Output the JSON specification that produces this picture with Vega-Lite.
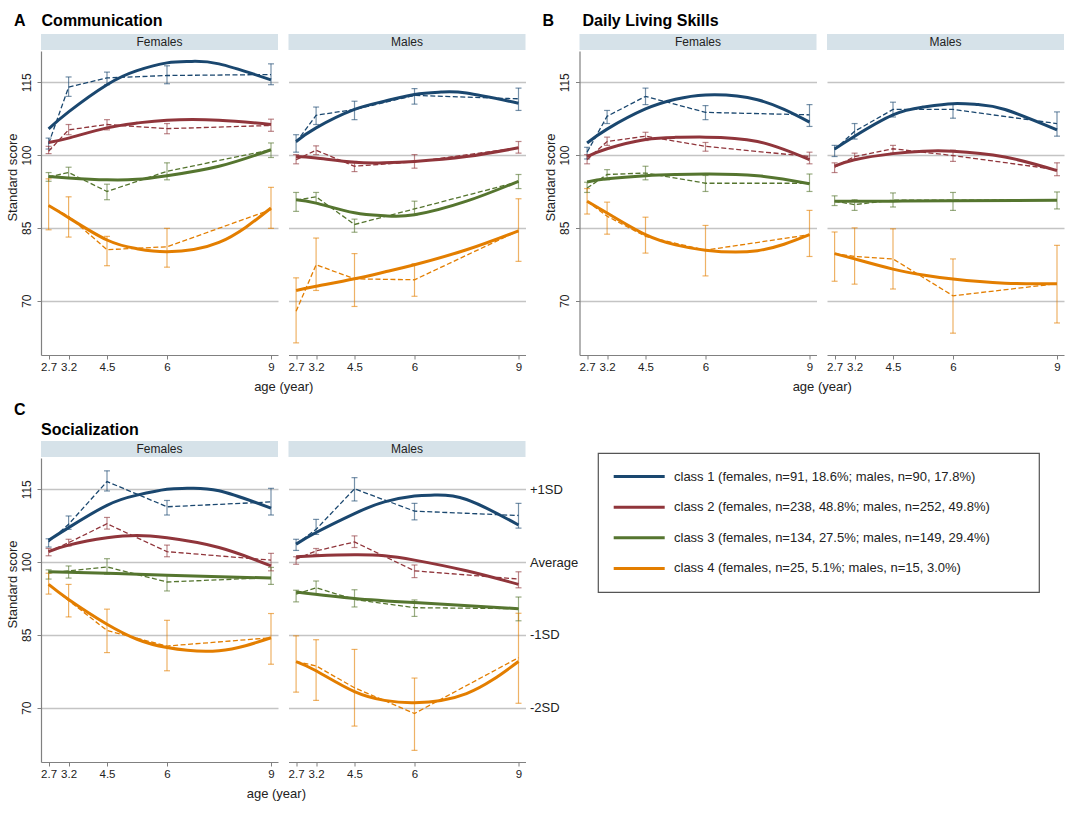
{
"$schema":"https://vega.github.io/schema/vega-lite/v6.json",
"background":"white",
"padding":{"left":5,"top":13,"right":5,"bottom":5},
"datasets":{
"obs":[
{"panel":"A","sex":"Females","cls":"class 1","age":2.7,"mean":102.35,"lo":101.25,"hi":103.5},
{"panel":"A","sex":"Females","cls":"class 1","age":3.2,"mean":114.0,"lo":112.1,"hi":116.1},
{"panel":"A","sex":"Females","cls":"class 1","age":4.5,"mean":115.9,"lo":114.5,"hi":117.1},
{"panel":"A","sex":"Females","cls":"class 1","age":6,"mean":116.4,"lo":114.7,"hi":118.4},
{"panel":"A","sex":"Females","cls":"class 1","age":9,"mean":116.6,"lo":114.5,"hi":118.8},
{"panel":"A","sex":"Females","cls":"class 2","age":2.7,"mean":100.8,"lo":100.3,"hi":101.8},
{"panel":"A","sex":"Females","cls":"class 2","age":3.2,"mean":105.2,"lo":104.2,"hi":106.3},
{"panel":"A","sex":"Females","cls":"class 2","age":4.5,"mean":106.3,"lo":105.2,"hi":107.3},
{"panel":"A","sex":"Females","cls":"class 2","age":6,"mean":105.45,"lo":104.4,"hi":106.5},
{"panel":"A","sex":"Females","cls":"class 2","age":9,"mean":106.1,"lo":104.9,"hi":107.4},
{"panel":"A","sex":"Females","cls":"class 3","age":2.7,"mean":95.5,"lo":94.6,"hi":96.4},
{"panel":"A","sex":"Females","cls":"class 3","age":3.2,"mean":96.4,"lo":95.3,"hi":97.5},
{"panel":"A","sex":"Females","cls":"class 3","age":4.5,"mean":92.5,"lo":90.8,"hi":94.0},
{"panel":"A","sex":"Females","cls":"class 3","age":6,"mean":96.65,"lo":94.9,"hi":98.4},
{"panel":"A","sex":"Females","cls":"class 3","age":9,"mean":101.1,"lo":99.5,"hi":102.5},
{"panel":"A","sex":"Females","cls":"class 4","age":2.7,"mean":89.6,"lo":84.6,"hi":95.1},
{"panel":"A","sex":"Females","cls":"class 4","age":3.2,"mean":87.4,"lo":83.1,"hi":91.4},
{"panel":"A","sex":"Females","cls":"class 4","age":4.5,"mean":80.5,"lo":77.2,"hi":83.25},
{"panel":"A","sex":"Females","cls":"class 4","age":6,"mean":81.1,"lo":76.9,"hi":84.9},
{"panel":"A","sex":"Females","cls":"class 4","age":9,"mean":88.75,"lo":84.9,"hi":93.35},
{"panel":"A","sex":"Males","cls":"class 1","age":2.7,"mean":102.6,"lo":100.6,"hi":104.2},
{"panel":"A","sex":"Males","cls":"class 1","age":3.2,"mean":108.2,"lo":106.3,"hi":109.9},
{"panel":"A","sex":"Males","cls":"class 1","age":4.5,"mean":109.4,"lo":107.3,"hi":111.1},
{"panel":"A","sex":"Males","cls":"class 1","age":6,"mean":112.3,"lo":110.5,"hi":113.7},
{"panel":"A","sex":"Males","cls":"class 1","age":9,"mean":111.6,"lo":109.2,"hi":113.8},
{"panel":"A","sex":"Males","cls":"class 2","age":2.7,"mean":99.05,"lo":98.2,"hi":100.1},
{"panel":"A","sex":"Males","cls":"class 2","age":3.2,"mean":101.0,"lo":100.1,"hi":101.9},
{"panel":"A","sex":"Males","cls":"class 2","age":4.5,"mean":97.7,"lo":96.6,"hi":98.7},
{"panel":"A","sex":"Males","cls":"class 2","age":6,"mean":98.6,"lo":97.3,"hi":100.1},
{"panel":"A","sex":"Males","cls":"class 2","age":9,"mean":101.5,"lo":100.4,"hi":102.8},
{"panel":"A","sex":"Males","cls":"class 3","age":2.7,"mean":90.7,"lo":88.4,"hi":92.3},
{"panel":"A","sex":"Males","cls":"class 3","age":3.2,"mean":91.4,"lo":90.1,"hi":92.3},
{"panel":"A","sex":"Males","cls":"class 3","age":4.5,"mean":85.7,"lo":84.1,"hi":86.8},
{"panel":"A","sex":"Males","cls":"class 3","age":6,"mean":88.9,"lo":87.6,"hi":90.5},
{"panel":"A","sex":"Males","cls":"class 3","age":9,"mean":94.5,"lo":93.1,"hi":96.0},
{"panel":"A","sex":"Males","cls":"class 4","age":2.7,"mean":67.8,"lo":61.3,"hi":74.7},
{"panel":"A","sex":"Males","cls":"class 4","age":3.2,"mean":77.4,"lo":72.1,"hi":82.9},
{"panel":"A","sex":"Males","cls":"class 4","age":4.5,"mean":74.5,"lo":68.8,"hi":79.7},
{"panel":"A","sex":"Males","cls":"class 4","age":6,"mean":74.3,"lo":70.9,"hi":77.6},
{"panel":"A","sex":"Males","cls":"class 4","age":9,"mean":84.4,"lo":78.1,"hi":91.0},
{"panel":"B","sex":"Females","cls":"class 1","age":2.7,"mean":100.6,"lo":99.2,"hi":101.6},
{"panel":"B","sex":"Females","cls":"class 1","age":3.2,"mean":108.0,"lo":106.5,"hi":109.2},
{"panel":"B","sex":"Females","cls":"class 1","age":4.5,"mean":112.1,"lo":110.4,"hi":113.8},
{"panel":"B","sex":"Females","cls":"class 1","age":6,"mean":108.8,"lo":107.3,"hi":110.2},
{"panel":"B","sex":"Females","cls":"class 1","age":9,"mean":108.3,"lo":105.9,"hi":110.4},
{"panel":"B","sex":"Females","cls":"class 2","age":2.7,"mean":99.05,"lo":98.2,"hi":100.1},
{"panel":"B","sex":"Females","cls":"class 2","age":3.2,"mean":102.8,"lo":102.0,"hi":103.7},
{"panel":"B","sex":"Females","cls":"class 2","age":4.5,"mean":103.9,"lo":103.0,"hi":104.7},
{"panel":"B","sex":"Females","cls":"class 2","age":6,"mean":101.8,"lo":100.8,"hi":102.6},
{"panel":"B","sex":"Females","cls":"class 2","age":9,"mean":99.7,"lo":98.2,"hi":100.6},
{"panel":"B","sex":"Females","cls":"class 3","age":2.7,"mean":93.2,"lo":92.3,"hi":94.4},
{"panel":"B","sex":"Females","cls":"class 3","age":3.2,"mean":96.0,"lo":94.9,"hi":97.0},
{"panel":"B","sex":"Females","cls":"class 3","age":4.5,"mean":96.3,"lo":94.9,"hi":97.7},
{"panel":"B","sex":"Females","cls":"class 3","age":6,"mean":94.2,"lo":92.5,"hi":95.8},
{"panel":"B","sex":"Females","cls":"class 3","age":9,"mean":94.2,"lo":92.5,"hi":96.1},
{"panel":"B","sex":"Females","cls":"class 4","age":2.7,"mean":90.5,"lo":87.85,"hi":93.1},
{"panel":"B","sex":"Females","cls":"class 4","age":3.2,"mean":87.4,"lo":83.7,"hi":90.3},
{"panel":"B","sex":"Females","cls":"class 4","age":4.5,"mean":83.25,"lo":79.8,"hi":87.2},
{"panel":"B","sex":"Females","cls":"class 4","age":6,"mean":80.4,"lo":75.1,"hi":85.5},
{"panel":"B","sex":"Females","cls":"class 4","age":9,"mean":83.6,"lo":79.1,"hi":88.6},
{"panel":"B","sex":"Males","cls":"class 1","age":2.7,"mean":101.1,"lo":99.7,"hi":102.0},
{"panel":"B","sex":"Males","cls":"class 1","age":3.2,"mean":104.9,"lo":103.3,"hi":106.5},
{"panel":"B","sex":"Males","cls":"class 1","age":4.5,"mean":109.4,"lo":107.85,"hi":110.9},
{"panel":"B","sex":"Males","cls":"class 1","age":6,"mean":109.4,"lo":107.6,"hi":110.5},
{"panel":"B","sex":"Males","cls":"class 1","age":9,"mean":106.5,"lo":103.9,"hi":108.9},
{"panel":"B","sex":"Males","cls":"class 2","age":2.7,"mean":97.5,"lo":96.4,"hi":98.4},
{"panel":"B","sex":"Males","cls":"class 2","age":3.2,"mean":99.7,"lo":99.05,"hi":100.4},
{"panel":"B","sex":"Males","cls":"class 2","age":4.5,"mean":101.3,"lo":100.4,"hi":102.0},
{"panel":"B","sex":"Males","cls":"class 2","age":6,"mean":99.9,"lo":98.7,"hi":101.0},
{"panel":"B","sex":"Males","cls":"class 2","age":9,"mean":97.0,"lo":95.75,"hi":98.4},
{"panel":"B","sex":"Males","cls":"class 3","age":2.7,"mean":90.5,"lo":89.6,"hi":91.6},
{"panel":"B","sex":"Males","cls":"class 3","age":3.2,"mean":89.8,"lo":88.6,"hi":90.8},
{"panel":"B","sex":"Males","cls":"class 3","age":4.5,"mean":90.7,"lo":89.3,"hi":92.2},
{"panel":"B","sex":"Males","cls":"class 3","age":6,"mean":90.7,"lo":88.6,"hi":92.3},
{"panel":"B","sex":"Males","cls":"class 3","age":9,"mean":90.8,"lo":88.9,"hi":92.4},
{"panel":"B","sex":"Males","cls":"class 4","age":2.7,"mean":79.7,"lo":74.0,"hi":84.15},
{"panel":"B","sex":"Males","cls":"class 4","age":3.2,"mean":79.1,"lo":73.4,"hi":85.0},
{"panel":"B","sex":"Males","cls":"class 4","age":4.5,"mean":78.6,"lo":72.4,"hi":84.8},
{"panel":"B","sex":"Males","cls":"class 4","age":6,"mean":71.0,"lo":63.3,"hi":78.6},
{"panel":"B","sex":"Males","cls":"class 4","age":9,"mean":73.5,"lo":65.4,"hi":81.4},
{"panel":"C","sex":"Females","cls":"class 1","age":2.7,"mean":104.15,"lo":103.1,"hi":104.8},
{"panel":"C","sex":"Females","cls":"class 1","age":3.2,"mean":107.8,"lo":106.75,"hi":109.5},
{"panel":"C","sex":"Females","cls":"class 1","age":4.5,"mean":116.6,"lo":114.65,"hi":118.8},
{"panel":"C","sex":"Females","cls":"class 1","age":6,"mean":111.4,"lo":109.7,"hi":112.7},
{"panel":"C","sex":"Females","cls":"class 1","age":9,"mean":112.4,"lo":109.7,"hi":115.2},
{"panel":"C","sex":"Females","cls":"class 2","age":2.7,"mean":102.15,"lo":101.3,"hi":102.8},
{"panel":"C","sex":"Females","cls":"class 2","age":3.2,"mean":104.0,"lo":103.3,"hi":104.7},
{"panel":"C","sex":"Females","cls":"class 2","age":4.5,"mean":107.9,"lo":106.8,"hi":109.2},
{"panel":"C","sex":"Females","cls":"class 2","age":6,"mean":102.15,"lo":101.1,"hi":103.5},
{"panel":"C","sex":"Females","cls":"class 2","age":9,"mean":100.4,"lo":98.2,"hi":101.8},
{"panel":"C","sex":"Females","cls":"class 3","age":2.7,"mean":97.8,"lo":96.5,"hi":98.4},
{"panel":"C","sex":"Females","cls":"class 3","age":3.2,"mean":98.2,"lo":96.7,"hi":99.2},
{"panel":"C","sex":"Females","cls":"class 3","age":4.5,"mean":99.0,"lo":97.5,"hi":100.7},
{"panel":"C","sex":"Females","cls":"class 3","age":6,"mean":95.9,"lo":94.05,"hi":97.3},
{"panel":"C","sex":"Females","cls":"class 3","age":9,"mean":96.8,"lo":95.4,"hi":98.9},
{"panel":"C","sex":"Females","cls":"class 4","age":2.7,"mean":95.4,"lo":93.4,"hi":97.7},
{"panel":"C","sex":"Females","cls":"class 4","age":3.2,"mean":92.1,"lo":88.7,"hi":95.4},
{"panel":"C","sex":"Females","cls":"class 4","age":4.5,"mean":85.9,"lo":81.35,"hi":90.3},
{"panel":"C","sex":"Females","cls":"class 4","age":6,"mean":82.7,"lo":77.6,"hi":88.0},
{"panel":"C","sex":"Females","cls":"class 4","age":9,"mean":84.4,"lo":78.95,"hi":89.4},
{"panel":"C","sex":"Males","cls":"class 1","age":2.7,"mean":103.7,"lo":102.4,"hi":104.7},
{"panel":"C","sex":"Males","cls":"class 1","age":3.2,"mean":106.75,"lo":105.7,"hi":108.8},
{"panel":"C","sex":"Males","cls":"class 1","age":4.5,"mean":115.1,"lo":112.6,"hi":117.4},
{"panel":"C","sex":"Males","cls":"class 1","age":6,"mean":110.5,"lo":108.7,"hi":112.1},
{"panel":"C","sex":"Males","cls":"class 1","age":9,"mean":109.6,"lo":107.0,"hi":112.1},
{"panel":"C","sex":"Males","cls":"class 2","age":2.7,"mean":100.6,"lo":99.55,"hi":101.1},
{"panel":"C","sex":"Males","cls":"class 2","age":3.2,"mean":102.3,"lo":101.6,"hi":102.8},
{"panel":"C","sex":"Males","cls":"class 2","age":4.5,"mean":104.15,"lo":103.0,"hi":105.4},
{"panel":"C","sex":"Males","cls":"class 2","age":6,"mean":98.2,"lo":96.8,"hi":99.4},
{"panel":"C","sex":"Males","cls":"class 2","age":9,"mean":96.5,"lo":94.7,"hi":98.0},
{"panel":"C","sex":"Males","cls":"class 3","age":2.7,"mean":93.4,"lo":91.8,"hi":94.2},
{"panel":"C","sex":"Males","cls":"class 3","age":3.2,"mean":94.7,"lo":93.4,"hi":96.1},
{"panel":"C","sex":"Males","cls":"class 3","age":4.5,"mean":92.3,"lo":90.75,"hi":94.3},
{"panel":"C","sex":"Males","cls":"class 3","age":6,"mean":90.6,"lo":88.8,"hi":92.2},
{"panel":"C","sex":"Males","cls":"class 3","age":9,"mean":90.4,"lo":87.9,"hi":92.8},
{"panel":"C","sex":"Males","cls":"class 4","age":2.7,"mean":79.5,"lo":73.2,"hi":84.8},
{"panel":"C","sex":"Males","cls":"class 4","age":3.2,"mean":78.6,"lo":71.5,"hi":84.0},
{"panel":"C","sex":"Males","cls":"class 4","age":4.5,"mean":74.1,"lo":66.2,"hi":82.0},
{"panel":"C","sex":"Males","cls":"class 4","age":6,"mean":68.8,"lo":61.2,"hi":76.1},
{"panel":"C","sex":"Males","cls":"class 4","age":9,"mean":80.3,"lo":70.9,"hi":89.45}
],
"fit":[
{"panel":"A","sex":"Females","cls":"class 1","age":2.7,"fit":105.4},
{"panel":"A","sex":"Females","cls":"class 1","age":3.2,"fit":108.9},
{"panel":"A","sex":"Females","cls":"class 1","age":4.5,"fit":114.5},
{"panel":"A","sex":"Females","cls":"class 1","age":5.25,"fit":117.4},
{"panel":"A","sex":"Females","cls":"class 1","age":6,"fit":119.0},
{"panel":"A","sex":"Females","cls":"class 1","age":6.67,"fit":119.3},
{"panel":"A","sex":"Females","cls":"class 1","age":7.5,"fit":118.8},
{"panel":"A","sex":"Females","cls":"class 1","age":9,"fit":115.5},
{"panel":"A","sex":"Females","cls":"class 2","age":2.7,"fit":102.6},
{"panel":"A","sex":"Females","cls":"class 2","age":3.2,"fit":103.5},
{"panel":"A","sex":"Females","cls":"class 2","age":4.5,"fit":105.6},
{"panel":"A","sex":"Females","cls":"class 2","age":5.25,"fit":106.6},
{"panel":"A","sex":"Females","cls":"class 2","age":6,"fit":107.2},
{"panel":"A","sex":"Females","cls":"class 2","age":7.5,"fit":107.2},
{"panel":"A","sex":"Females","cls":"class 2","age":9,"fit":106.3},
{"panel":"A","sex":"Females","cls":"class 3","age":2.7,"fit":95.6},
{"panel":"A","sex":"Females","cls":"class 3","age":3.2,"fit":95.3},
{"panel":"A","sex":"Females","cls":"class 3","age":4.5,"fit":94.9},
{"panel":"A","sex":"Females","cls":"class 3","age":5.25,"fit":95.0},
{"panel":"A","sex":"Females","cls":"class 3","age":6,"fit":95.75},
{"panel":"A","sex":"Females","cls":"class 3","age":7.5,"fit":97.7},
{"panel":"A","sex":"Females","cls":"class 3","age":9,"fit":101.1},
{"panel":"A","sex":"Females","cls":"class 4","age":2.7,"fit":89.6},
{"panel":"A","sex":"Females","cls":"class 4","age":3.2,"fit":87.1},
{"panel":"A","sex":"Females","cls":"class 4","age":4.5,"fit":82.5},
{"panel":"A","sex":"Females","cls":"class 4","age":5.25,"fit":80.7},
{"panel":"A","sex":"Females","cls":"class 4","age":6,"fit":80.1},
{"panel":"A","sex":"Females","cls":"class 4","age":7.5,"fit":82.0},
{"panel":"A","sex":"Females","cls":"class 4","age":9,"fit":89.1},
{"panel":"A","sex":"Males","cls":"class 1","age":2.7,"fit":102.8},
{"panel":"A","sex":"Males","cls":"class 1","age":3.2,"fit":105.6},
{"panel":"A","sex":"Males","cls":"class 1","age":4.5,"fit":109.4},
{"panel":"A","sex":"Males","cls":"class 1","age":5.25,"fit":111.1},
{"panel":"A","sex":"Males","cls":"class 1","age":6,"fit":112.5},
{"panel":"A","sex":"Males","cls":"class 1","age":6.77,"fit":113.0},
{"panel":"A","sex":"Males","cls":"class 1","age":7.5,"fit":112.8},
{"panel":"A","sex":"Males","cls":"class 1","age":9,"fit":110.7},
{"panel":"A","sex":"Males","cls":"class 2","age":2.7,"fit":99.7},
{"panel":"A","sex":"Males","cls":"class 2","age":3.2,"fit":99.4},
{"panel":"A","sex":"Males","cls":"class 2","age":4.5,"fit":98.5},
{"panel":"A","sex":"Males","cls":"class 2","age":5.25,"fit":98.4},
{"panel":"A","sex":"Males","cls":"class 2","age":6,"fit":98.7},
{"panel":"A","sex":"Males","cls":"class 2","age":7.5,"fit":99.7},
{"panel":"A","sex":"Males","cls":"class 2","age":9,"fit":101.5},
{"panel":"A","sex":"Males","cls":"class 3","age":2.7,"fit":90.8},
{"panel":"A","sex":"Males","cls":"class 3","age":3.2,"fit":90.1},
{"panel":"A","sex":"Males","cls":"class 3","age":4.5,"fit":88.1},
{"panel":"A","sex":"Males","cls":"class 3","age":5.25,"fit":87.5},
{"panel":"A","sex":"Males","cls":"class 3","age":6,"fit":87.7},
{"panel":"A","sex":"Males","cls":"class 3","age":7.5,"fit":90.5},
{"panel":"A","sex":"Males","cls":"class 3","age":9,"fit":94.6},
{"panel":"A","sex":"Males","cls":"class 4","age":2.7,"fit":72.1},
{"panel":"A","sex":"Males","cls":"class 4","age":3.2,"fit":72.95},
{"panel":"A","sex":"Males","cls":"class 4","age":4.5,"fit":74.5},
{"panel":"A","sex":"Males","cls":"class 4","age":5.25,"fit":75.9},
{"panel":"A","sex":"Males","cls":"class 4","age":6,"fit":77.4},
{"panel":"A","sex":"Males","cls":"class 4","age":7.5,"fit":80.5},
{"panel":"A","sex":"Males","cls":"class 4","age":9,"fit":84.4},
{"panel":"B","sex":"Females","cls":"class 1","age":2.7,"fit":102.5},
{"panel":"B","sex":"Females","cls":"class 1","age":3.2,"fit":105.35},
{"panel":"B","sex":"Females","cls":"class 1","age":4.5,"fit":109.5},
{"panel":"B","sex":"Females","cls":"class 1","age":5.25,"fit":111.5},
{"panel":"B","sex":"Females","cls":"class 1","age":6,"fit":112.4},
{"panel":"B","sex":"Females","cls":"class 1","age":7.5,"fit":111.4},
{"panel":"B","sex":"Females","cls":"class 1","age":9,"fit":106.8},
{"panel":"B","sex":"Females","cls":"class 2","age":2.7,"fit":99.7},
{"panel":"B","sex":"Females","cls":"class 2","age":3.2,"fit":101.3},
{"panel":"B","sex":"Females","cls":"class 2","age":4.5,"fit":103.2},
{"panel":"B","sex":"Females","cls":"class 2","age":5.25,"fit":103.65},
{"panel":"B","sex":"Females","cls":"class 2","age":6,"fit":103.7},
{"panel":"B","sex":"Females","cls":"class 2","age":7.5,"fit":102.8},
{"panel":"B","sex":"Females","cls":"class 2","age":9,"fit":99.05},
{"panel":"B","sex":"Females","cls":"class 3","age":2.7,"fit":94.45},
{"panel":"B","sex":"Females","cls":"class 3","age":3.2,"fit":95.1},
{"panel":"B","sex":"Females","cls":"class 3","age":4.5,"fit":95.75},
{"panel":"B","sex":"Females","cls":"class 3","age":5.25,"fit":96.0},
{"panel":"B","sex":"Females","cls":"class 3","age":6,"fit":96.1},
{"panel":"B","sex":"Females","cls":"class 3","age":7.5,"fit":95.75},
{"panel":"B","sex":"Females","cls":"class 3","age":9,"fit":94.1},
{"panel":"B","sex":"Females","cls":"class 4","age":2.7,"fit":90.5},
{"panel":"B","sex":"Females","cls":"class 4","age":3.2,"fit":88.05},
{"panel":"B","sex":"Females","cls":"class 4","age":4.5,"fit":83.6},
{"panel":"B","sex":"Females","cls":"class 4","age":5.25,"fit":81.5},
{"panel":"B","sex":"Females","cls":"class 4","age":6,"fit":80.4},
{"panel":"B","sex":"Females","cls":"class 4","age":7.5,"fit":80.3},
{"panel":"B","sex":"Females","cls":"class 4","age":9,"fit":83.6},
{"panel":"B","sex":"Males","cls":"class 1","age":2.7,"fit":101.25},
{"panel":"B","sex":"Males","cls":"class 1","age":3.2,"fit":103.9},
{"panel":"B","sex":"Males","cls":"class 1","age":4.5,"fit":108.3},
{"panel":"B","sex":"Males","cls":"class 1","age":5.25,"fit":109.9},
{"panel":"B","sex":"Males","cls":"class 1","age":6,"fit":110.6},
{"panel":"B","sex":"Males","cls":"class 1","age":6.73,"fit":110.4},
{"panel":"B","sex":"Males","cls":"class 1","age":7.5,"fit":109.4},
{"panel":"B","sex":"Males","cls":"class 1","age":9,"fit":105.2},
{"panel":"B","sex":"Males","cls":"class 2","age":2.7,"fit":97.7},
{"panel":"B","sex":"Males","cls":"class 2","age":3.2,"fit":99.05},
{"panel":"B","sex":"Males","cls":"class 2","age":4.5,"fit":100.3},
{"panel":"B","sex":"Males","cls":"class 2","age":5.25,"fit":100.8},
{"panel":"B","sex":"Males","cls":"class 2","age":6,"fit":100.8},
{"panel":"B","sex":"Males","cls":"class 2","age":7.5,"fit":99.6},
{"panel":"B","sex":"Males","cls":"class 2","age":9,"fit":96.8},
{"panel":"B","sex":"Males","cls":"class 3","age":2.7,"fit":90.5},
{"panel":"B","sex":"Males","cls":"class 3","age":4.5,"fit":90.5},
{"panel":"B","sex":"Males","cls":"class 3","age":6,"fit":90.6},
{"panel":"B","sex":"Males","cls":"class 3","age":9,"fit":90.7},
{"panel":"B","sex":"Males","cls":"class 4","age":2.7,"fit":79.7},
{"panel":"B","sex":"Males","cls":"class 4","age":3.2,"fit":78.6},
{"panel":"B","sex":"Males","cls":"class 4","age":4.5,"fit":76.5},
{"panel":"B","sex":"Males","cls":"class 4","age":5.25,"fit":75.3},
{"panel":"B","sex":"Males","cls":"class 4","age":6,"fit":74.45},
{"panel":"B","sex":"Males","cls":"class 4","age":7.5,"fit":73.6},
{"panel":"B","sex":"Males","cls":"class 4","age":9,"fit":73.5},
{"panel":"C","sex":"Females","cls":"class 1","age":2.7,"fit":104.5},
{"panel":"C","sex":"Females","cls":"class 1","age":3.2,"fit":107.1},
{"panel":"C","sex":"Females","cls":"class 1","age":4.5,"fit":111.7},
{"panel":"C","sex":"Females","cls":"class 1","age":5.25,"fit":113.8},
{"panel":"C","sex":"Females","cls":"class 1","age":6,"fit":115.0},
{"panel":"C","sex":"Females","cls":"class 1","age":6.58,"fit":115.2},
{"panel":"C","sex":"Females","cls":"class 1","age":7.5,"fit":114.7},
{"panel":"C","sex":"Females","cls":"class 1","age":9,"fit":111.1},
{"panel":"C","sex":"Females","cls":"class 2","age":2.7,"fit":102.15},
{"panel":"C","sex":"Females","cls":"class 2","age":3.2,"fit":103.5},
{"panel":"C","sex":"Females","cls":"class 2","age":4.5,"fit":105.0},
{"panel":"C","sex":"Females","cls":"class 2","age":5.25,"fit":105.5},
{"panel":"C","sex":"Females","cls":"class 2","age":6,"fit":105.0},
{"panel":"C","sex":"Females","cls":"class 2","age":7.5,"fit":103.0},
{"panel":"C","sex":"Females","cls":"class 2","age":9,"fit":99.2},
{"panel":"C","sex":"Females","cls":"class 3","age":2.7,"fit":98.0},
{"panel":"C","sex":"Females","cls":"class 3","age":4.5,"fit":97.7},
{"panel":"C","sex":"Females","cls":"class 3","age":6,"fit":97.3},
{"panel":"C","sex":"Females","cls":"class 3","age":9,"fit":96.7},
{"panel":"C","sex":"Females","cls":"class 4","age":2.7,"fit":95.4},
{"panel":"C","sex":"Females","cls":"class 4","age":3.2,"fit":92.3},
{"panel":"C","sex":"Females","cls":"class 4","age":4.5,"fit":87.2},
{"panel":"C","sex":"Females","cls":"class 4","age":5.25,"fit":84.1},
{"panel":"C","sex":"Females","cls":"class 4","age":6,"fit":82.4},
{"panel":"C","sex":"Females","cls":"class 4","age":7.5,"fit":81.75},
{"panel":"C","sex":"Females","cls":"class 4","age":9,"fit":84.4},
{"panel":"C","sex":"Males","cls":"class 1","age":2.7,"fit":103.7},
{"panel":"C","sex":"Males","cls":"class 1","age":3.2,"fit":106.1},
{"panel":"C","sex":"Males","cls":"class 1","age":4.5,"fit":110.0},
{"panel":"C","sex":"Males","cls":"class 1","age":5.25,"fit":112.4},
{"panel":"C","sex":"Males","cls":"class 1","age":6,"fit":113.6},
{"panel":"C","sex":"Males","cls":"class 1","age":6.58,"fit":113.8},
{"panel":"C","sex":"Males","cls":"class 1","age":7.5,"fit":112.9},
{"panel":"C","sex":"Males","cls":"class 1","age":9,"fit":107.65},
{"panel":"C","sex":"Males","cls":"class 2","age":2.7,"fit":101.1},
{"panel":"C","sex":"Males","cls":"class 2","age":3.2,"fit":101.3},
{"panel":"C","sex":"Males","cls":"class 2","age":4.5,"fit":101.5},
{"panel":"C","sex":"Males","cls":"class 2","age":5.25,"fit":101.3},
{"panel":"C","sex":"Males","cls":"class 2","age":6,"fit":100.4},
{"panel":"C","sex":"Males","cls":"class 2","age":7.5,"fit":98.2},
{"panel":"C","sex":"Males","cls":"class 2","age":9,"fit":95.4},
{"panel":"C","sex":"Males","cls":"class 3","age":2.7,"fit":93.85},
{"panel":"C","sex":"Males","cls":"class 3","age":4.5,"fit":92.5},
{"panel":"C","sex":"Males","cls":"class 3","age":6,"fit":91.65},
{"panel":"C","sex":"Males","cls":"class 3","age":9,"fit":90.4},
{"panel":"C","sex":"Males","cls":"class 4","age":2.7,"fit":79.5},
{"panel":"C","sex":"Males","cls":"class 4","age":3.2,"fit":77.6},
{"panel":"C","sex":"Males","cls":"class 4","age":4.5,"fit":73.3},
{"panel":"C","sex":"Males","cls":"class 4","age":5.25,"fit":71.5},
{"panel":"C","sex":"Males","cls":"class 4","age":6,"fit":71.0},
{"panel":"C","sex":"Males","cls":"class 4","age":7.5,"fit":72.9},
{"panel":"C","sex":"Males","cls":"class 4","age":9,"fit":79.5}
],
"leg":[
{"cls":"class 1","label":"class 1 (females, n=91, 18.6%; males, n=90, 17.8%)"},
{"cls":"class 2","label":"class 2 (females, n=238, 48.8%; males, n=252, 49.8%)"},
{"cls":"class 3","label":"class 3 (females, n=134, 27.5%; males, n=149, 29.4%)"},
{"cls":"class 4","label":"class 4 (females, n=25, 5.1%; males, n=15, 3.0%)"}
]
},
"spacing":8,
"vconcat":[
{"spacing":15.5,"hconcat":[
 {"title":{"text":"A\u2002\u2002Communication","anchor":"start","dx":8,"offset":5},
  "vconcat":[{"title":{"text":"age (year)","orient":"bottom","anchor":"middle","fontSize":13,"fontWeight":"normal","color":"#222","offset":8,"dx":18},
   "spacing":9.5,
   "hconcat":[
    {"spacing":1,"bounds":"flush","vconcat":[
      {"width":237,"height":16,"view":{"fill":"#d6e2e9","stroke":null},"data":{"values":[{"label":"Females"}]},"mark":{"type":"text","align":"center","baseline":"middle","fontSize":12,"color":"#222"},"encoding":{"text":{"field":"label","type":"nominal"}}},
      {"width":237,"height":304,
       "encoding":{"x":{"field":"age","type":"quantitative","scale":{"domain":[2.45,2.7,3.2,4.5,6,9,9.25],"range":[0,7.6,27.6,66,126,230,237],"nice":false,"zero":false},"axis":{"values":[2.7,3.2,4.5,6,9],"format":".1~f","title":null,"grid":false,"domainColor":"#808080","domainWidth":1.2,"tickColor":"#808080","tickSize":4,"labelFontSize":11.5,"labelColor":"#222","labelPadding":2,"labelFlush":false,"labelOverlap":false}},
         "color":{"field":"cls","type":"nominal","scale":{"domain":["class 1","class 2","class 3","class 4"],"range":["#1a476f","#90353b","#55752f","#e37e00"]},"legend":null}},
       "layer":[
        {"data":{"name":"obs"},"transform":[{"filter":"datum.panel==='A' && datum.sex==='Females'"}],"mark":{"type":"rule","strokeWidth":1.2,"opacity":0.6},"encoding":{"y":{"field":"lo","type":"quantitative","scale":{"domain":[58.8,121.45],"nice":false,"zero":false},"axis":{"values":[70,85,100,115],"title":"Standard score","titleFontSize":13,"titleFontWeight":"normal","titleColor":"#222","titlePadding":1,"titleY":126,"grid":true,"gridColor":"#c4c4c4","gridWidth":1.3,"domainColor":"#808080","domainWidth":1.2,"tickColor":"#808080","tickSize":4,"labelAngle":270,"labelAlign":"center","labelBaseline":"bottom","labelFontSize":12,"labelPadding":4,"labelColor":"#222"}},"y2":{"field":"hi"}}},
        {"data":{"name":"obs"},"transform":[{"filter":"datum.panel==='A' && datum.sex==='Females'"}],"mark":{"type":"tick","orient":"horizontal","size":6,"thickness":1.2,"opacity":0.6},"encoding":{"y":{"field":"lo","type":"quantitative"}}},
        {"data":{"name":"obs"},"transform":[{"filter":"datum.panel==='A' && datum.sex==='Females'"}],"mark":{"type":"tick","orient":"horizontal","size":6,"thickness":1.2,"opacity":0.6},"encoding":{"y":{"field":"hi","type":"quantitative"}}},
        {"data":{"name":"obs"},"transform":[{"filter":"datum.panel==='A' && datum.sex==='Females'"}],"mark":{"type":"line","strokeDash":[5,2.5],"strokeWidth":1.3},"encoding":{"y":{"field":"mean","type":"quantitative"}}},
        {"data":{"name":"fit"},"transform":[{"filter":"datum.panel==='A' && datum.sex==='Females'"}],"mark":{"type":"line","interpolate":"natural","strokeWidth":3},"encoding":{"y":{"field":"fit","type":"quantitative"}}}
       ]}
    ]},
    {"spacing":1,"bounds":"flush","vconcat":[
      {"width":237,"height":16,"view":{"fill":"#d6e2e9","stroke":null},"data":{"values":[{"label":"Males"}]},"mark":{"type":"text","align":"center","baseline":"middle","fontSize":12,"color":"#222"},"encoding":{"text":{"field":"label","type":"nominal"}}},
      {"width":237,"height":304,
       "encoding":{"x":{"field":"age","type":"quantitative","scale":{"domain":[2.45,2.7,3.2,4.5,6,9,9.25],"range":[0,7.6,27.6,66,126,230,237],"nice":false,"zero":false},"axis":{"values":[2.7,3.2,4.5,6,9],"format":".1~f","title":null,"grid":false,"domainColor":"#808080","domainWidth":1.2,"tickColor":"#808080","tickSize":4,"labelFontSize":11.5,"labelColor":"#222","labelPadding":2,"labelFlush":false,"labelOverlap":false}},
         "color":{"field":"cls","type":"nominal","scale":{"domain":["class 1","class 2","class 3","class 4"],"range":["#1a476f","#90353b","#55752f","#e37e00"]},"legend":null}},
       "layer":[
        {"data":{"name":"obs"},"transform":[{"filter":"datum.panel==='A' && datum.sex==='Males'"}],"mark":{"type":"rule","strokeWidth":1.2,"opacity":0.6},"encoding":{"y":{"field":"lo","type":"quantitative","scale":{"domain":[58.8,121.45],"nice":false,"zero":false},"axis":{"values":[70,85,100,115],"title":null,"grid":true,"gridColor":"#c4c4c4","gridWidth":1.3,"labels":false,"ticks":false,"domain":false}},"y2":{"field":"hi"}}},
        {"data":{"name":"obs"},"transform":[{"filter":"datum.panel==='A' && datum.sex==='Males'"}],"mark":{"type":"tick","orient":"horizontal","size":6,"thickness":1.2,"opacity":0.6},"encoding":{"y":{"field":"lo","type":"quantitative"}}},
        {"data":{"name":"obs"},"transform":[{"filter":"datum.panel==='A' && datum.sex==='Males'"}],"mark":{"type":"tick","orient":"horizontal","size":6,"thickness":1.2,"opacity":0.6},"encoding":{"y":{"field":"hi","type":"quantitative"}}},
        {"data":{"name":"obs"},"transform":[{"filter":"datum.panel==='A' && datum.sex==='Males'"}],"mark":{"type":"line","strokeDash":[5,2.5],"strokeWidth":1.3},"encoding":{"y":{"field":"mean","type":"quantitative"}}},
        {"data":{"name":"fit"},"transform":[{"filter":"datum.panel==='A' && datum.sex==='Males'"}],"mark":{"type":"line","interpolate":"natural","strokeWidth":3},"encoding":{"y":{"field":"fit","type":"quantitative"}}}
       ]}
    ]}
   ]}]},
 {"title":{"text":"B\u2002\u2002\u2002\u00a0Daily Living Skills","anchor":"start","dx":-2,"offset":5},
  "vconcat":[{"title":{"text":"age (year)","orient":"bottom","anchor":"middle","fontSize":13,"fontWeight":"normal","color":"#222","offset":8,"dx":18},
   "spacing":9.5,
   "hconcat":[
    {"spacing":1,"bounds":"flush","vconcat":[
      {"width":237,"height":16,"view":{"fill":"#d6e2e9","stroke":null},"data":{"values":[{"label":"Females"}]},"mark":{"type":"text","align":"center","baseline":"middle","fontSize":12,"color":"#222"},"encoding":{"text":{"field":"label","type":"nominal"}}},
      {"width":237,"height":304,
       "encoding":{"x":{"field":"age","type":"quantitative","scale":{"domain":[2.45,2.7,3.2,4.5,6,9,9.25],"range":[0,7.6,27.6,66,126,230,237],"nice":false,"zero":false},"axis":{"values":[2.7,3.2,4.5,6,9],"format":".1~f","title":null,"grid":false,"domainColor":"#808080","domainWidth":1.2,"tickColor":"#808080","tickSize":4,"labelFontSize":11.5,"labelColor":"#222","labelPadding":2,"labelFlush":false,"labelOverlap":false}},
         "color":{"field":"cls","type":"nominal","scale":{"domain":["class 1","class 2","class 3","class 4"],"range":["#1a476f","#90353b","#55752f","#e37e00"]},"legend":null}},
       "layer":[
        {"data":{"name":"obs"},"transform":[{"filter":"datum.panel==='B' && datum.sex==='Females'"}],"mark":{"type":"rule","strokeWidth":1.2,"opacity":0.6},"encoding":{"y":{"field":"lo","type":"quantitative","scale":{"domain":[58.8,121.45],"nice":false,"zero":false},"axis":{"values":[70,85,100,115],"title":"Standard score","titleFontSize":13,"titleFontWeight":"normal","titleColor":"#222","titlePadding":1,"titleY":126,"grid":true,"gridColor":"#c4c4c4","gridWidth":1.3,"domainColor":"#808080","domainWidth":1.2,"tickColor":"#808080","tickSize":4,"labelAngle":270,"labelAlign":"center","labelBaseline":"bottom","labelFontSize":12,"labelPadding":4,"labelColor":"#222"}},"y2":{"field":"hi"}}},
        {"data":{"name":"obs"},"transform":[{"filter":"datum.panel==='B' && datum.sex==='Females'"}],"mark":{"type":"tick","orient":"horizontal","size":6,"thickness":1.2,"opacity":0.6},"encoding":{"y":{"field":"lo","type":"quantitative"}}},
        {"data":{"name":"obs"},"transform":[{"filter":"datum.panel==='B' && datum.sex==='Females'"}],"mark":{"type":"tick","orient":"horizontal","size":6,"thickness":1.2,"opacity":0.6},"encoding":{"y":{"field":"hi","type":"quantitative"}}},
        {"data":{"name":"obs"},"transform":[{"filter":"datum.panel==='B' && datum.sex==='Females'"}],"mark":{"type":"line","strokeDash":[5,2.5],"strokeWidth":1.3},"encoding":{"y":{"field":"mean","type":"quantitative"}}},
        {"data":{"name":"fit"},"transform":[{"filter":"datum.panel==='B' && datum.sex==='Females'"}],"mark":{"type":"line","interpolate":"natural","strokeWidth":3},"encoding":{"y":{"field":"fit","type":"quantitative"}}}
       ]}
    ]},
    {"spacing":1,"bounds":"flush","vconcat":[
      {"width":237,"height":16,"view":{"fill":"#d6e2e9","stroke":null},"data":{"values":[{"label":"Males"}]},"mark":{"type":"text","align":"center","baseline":"middle","fontSize":12,"color":"#222"},"encoding":{"text":{"field":"label","type":"nominal"}}},
      {"width":237,"height":304,
       "encoding":{"x":{"field":"age","type":"quantitative","scale":{"domain":[2.45,2.7,3.2,4.5,6,9,9.25],"range":[0,7.6,27.6,66,126,230,237],"nice":false,"zero":false},"axis":{"values":[2.7,3.2,4.5,6,9],"format":".1~f","title":null,"grid":false,"domainColor":"#808080","domainWidth":1.2,"tickColor":"#808080","tickSize":4,"labelFontSize":11.5,"labelColor":"#222","labelPadding":2,"labelFlush":false,"labelOverlap":false}},
         "color":{"field":"cls","type":"nominal","scale":{"domain":["class 1","class 2","class 3","class 4"],"range":["#1a476f","#90353b","#55752f","#e37e00"]},"legend":null}},
       "layer":[
        {"data":{"name":"obs"},"transform":[{"filter":"datum.panel==='B' && datum.sex==='Males'"}],"mark":{"type":"rule","strokeWidth":1.2,"opacity":0.6},"encoding":{"y":{"field":"lo","type":"quantitative","scale":{"domain":[58.8,121.45],"nice":false,"zero":false},"axis":{"values":[70,85,100,115],"title":null,"grid":true,"gridColor":"#c4c4c4","gridWidth":1.3,"labels":false,"ticks":false,"domain":false}},"y2":{"field":"hi"}}},
        {"data":{"name":"obs"},"transform":[{"filter":"datum.panel==='B' && datum.sex==='Males'"}],"mark":{"type":"tick","orient":"horizontal","size":6,"thickness":1.2,"opacity":0.6},"encoding":{"y":{"field":"lo","type":"quantitative"}}},
        {"data":{"name":"obs"},"transform":[{"filter":"datum.panel==='B' && datum.sex==='Males'"}],"mark":{"type":"tick","orient":"horizontal","size":6,"thickness":1.2,"opacity":0.6},"encoding":{"y":{"field":"hi","type":"quantitative"}}},
        {"data":{"name":"obs"},"transform":[{"filter":"datum.panel==='B' && datum.sex==='Males'"}],"mark":{"type":"line","strokeDash":[5,2.5],"strokeWidth":1.3},"encoding":{"y":{"field":"mean","type":"quantitative"}}},
        {"data":{"name":"fit"},"transform":[{"filter":"datum.panel==='B' && datum.sex==='Males'"}],"mark":{"type":"line","interpolate":"natural","strokeWidth":3},"encoding":{"y":{"field":"fit","type":"quantitative"}}}
       ]}
    ]}
   ]}]}
]},
{"title":{"text":"C","anchor":"start","dx":8,"offset":4},"spacing":19,"hconcat":[
 {"title":{"text":"Socialization","anchor":"start","dx":35,"offset":3},
  "vconcat":[{"title":{"text":"age (year)","orient":"bottom","anchor":"middle","fontSize":13,"fontWeight":"normal","color":"#222","offset":8,"dx":-15.5},
   "spacing":9.5,
   "hconcat":[
    {"spacing":1,"bounds":"flush","vconcat":[
      {"width":237,"height":16,"view":{"fill":"#d6e2e9","stroke":null},"data":{"values":[{"label":"Females"}]},"mark":{"type":"text","align":"center","baseline":"middle","fontSize":12,"color":"#222"},"encoding":{"text":{"field":"label","type":"nominal"}}},
      {"width":237,"height":304,
       "encoding":{"x":{"field":"age","type":"quantitative","scale":{"domain":[2.45,2.7,3.2,4.5,6,9,9.25],"range":[0,7.6,27.6,66,126,230,237],"nice":false,"zero":false},"axis":{"values":[2.7,3.2,4.5,6,9],"format":".1~f","title":null,"grid":false,"domainColor":"#808080","domainWidth":1.2,"tickColor":"#808080","tickSize":4,"labelFontSize":11.5,"labelColor":"#222","labelPadding":2,"labelFlush":false,"labelOverlap":false}},
         "color":{"field":"cls","type":"nominal","scale":{"domain":["class 1","class 2","class 3","class 4"],"range":["#1a476f","#90353b","#55752f","#e37e00"]},"legend":null}},
       "layer":[
        {"data":{"name":"obs"},"transform":[{"filter":"datum.panel==='C' && datum.sex==='Females'"}],"mark":{"type":"rule","strokeWidth":1.2,"opacity":0.6},"encoding":{"y":{"field":"lo","type":"quantitative","scale":{"domain":[58.8,121.45],"nice":false,"zero":false},"axis":{"values":[70,85,100,115],"title":"Standard score","titleFontSize":13,"titleFontWeight":"normal","titleColor":"#222","titlePadding":1,"titleY":126,"grid":true,"gridColor":"#c4c4c4","gridWidth":1.3,"domainColor":"#808080","domainWidth":1.2,"tickColor":"#808080","tickSize":4,"labelAngle":270,"labelAlign":"center","labelBaseline":"bottom","labelFontSize":12,"labelPadding":4,"labelColor":"#222"}},"y2":{"field":"hi"}}},
        {"data":{"name":"obs"},"transform":[{"filter":"datum.panel==='C' && datum.sex==='Females'"}],"mark":{"type":"tick","orient":"horizontal","size":6,"thickness":1.2,"opacity":0.6},"encoding":{"y":{"field":"lo","type":"quantitative"}}},
        {"data":{"name":"obs"},"transform":[{"filter":"datum.panel==='C' && datum.sex==='Females'"}],"mark":{"type":"tick","orient":"horizontal","size":6,"thickness":1.2,"opacity":0.6},"encoding":{"y":{"field":"hi","type":"quantitative"}}},
        {"data":{"name":"obs"},"transform":[{"filter":"datum.panel==='C' && datum.sex==='Females'"}],"mark":{"type":"line","strokeDash":[5,2.5],"strokeWidth":1.3},"encoding":{"y":{"field":"mean","type":"quantitative"}}},
        {"data":{"name":"fit"},"transform":[{"filter":"datum.panel==='C' && datum.sex==='Females'"}],"mark":{"type":"line","interpolate":"natural","strokeWidth":3},"encoding":{"y":{"field":"fit","type":"quantitative"}}}
       ]}
    ]},
    {"spacing":1,"bounds":"flush","vconcat":[
      {"width":237,"height":16,"view":{"fill":"#d6e2e9","stroke":null},"data":{"values":[{"label":"Males"}]},"mark":{"type":"text","align":"center","baseline":"middle","fontSize":12,"color":"#222"},"encoding":{"text":{"field":"label","type":"nominal"}}},
      {"width":237,"height":304,
       "encoding":{"x":{"field":"age","type":"quantitative","scale":{"domain":[2.45,2.7,3.2,4.5,6,9,9.25],"range":[0,7.6,27.6,66,126,230,237],"nice":false,"zero":false},"axis":{"values":[2.7,3.2,4.5,6,9],"format":".1~f","title":null,"grid":false,"domainColor":"#808080","domainWidth":1.2,"tickColor":"#808080","tickSize":4,"labelFontSize":11.5,"labelColor":"#222","labelPadding":2,"labelFlush":false,"labelOverlap":false}},
         "color":{"field":"cls","type":"nominal","scale":{"domain":["class 1","class 2","class 3","class 4"],"range":["#1a476f","#90353b","#55752f","#e37e00"]},"legend":null}},
       "layer":[
        {"data":{"name":"obs"},"transform":[{"filter":"datum.panel==='C' && datum.sex==='Males'"}],"mark":{"type":"rule","strokeWidth":1.2,"opacity":0.6},"encoding":{"y":{"field":"lo","type":"quantitative","scale":{"domain":[58.8,121.45],"nice":false,"zero":false},"axis":{"orient":"right","values":[70,85,100,115],"title":null,"grid":true,"gridColor":"#c4c4c4","gridWidth":1.3,"ticks":false,"domain":false,"labelExpr":"datum.value == 115 ? '+1SD' : datum.value == 100 ? 'Average' : datum.value == 85 ? '-1SD' : '-2SD'","labelFontSize":13,"labelPadding":4,"labelColor":"#222"}},"y2":{"field":"hi"}}},
        {"data":{"name":"obs"},"transform":[{"filter":"datum.panel==='C' && datum.sex==='Males'"}],"mark":{"type":"tick","orient":"horizontal","size":6,"thickness":1.2,"opacity":0.6},"encoding":{"y":{"field":"lo","type":"quantitative"}}},
        {"data":{"name":"obs"},"transform":[{"filter":"datum.panel==='C' && datum.sex==='Males'"}],"mark":{"type":"tick","orient":"horizontal","size":6,"thickness":1.2,"opacity":0.6},"encoding":{"y":{"field":"hi","type":"quantitative"}}},
        {"data":{"name":"obs"},"transform":[{"filter":"datum.panel==='C' && datum.sex==='Males'"}],"mark":{"type":"line","strokeDash":[5,2.5],"strokeWidth":1.3},"encoding":{"y":{"field":"mean","type":"quantitative"}}},
        {"data":{"name":"fit"},"transform":[{"filter":"datum.panel==='C' && datum.sex==='Males'"}],"mark":{"type":"line","interpolate":"natural","strokeWidth":3},"encoding":{"y":{"field":"fit","type":"quantitative"}}}
       ]}
    ]}
   ]}]},
 {"spacing":11,"bounds":"flush","vconcat":[
  {"width":441,"height":1,"data":{"values":[{"label":""}]},"mark":{"type":"text"},"encoding":{"text":{"field":"label","type":"nominal"}}},
  {"width":441,"height":139,
   "view":{"stroke":"#555555","strokeWidth":1.2,"fill":"white"},
   "data":{"name":"leg"},
   "encoding":{"y":{"field":"label","type":"nominal","sort":null,"scale":{"type":"point","padding":0.77},"axis":null}},
   "layer":[
    {"mark":{"type":"rule","strokeWidth":3},"encoding":{"x":{"datum":15.7,"type":"quantitative","scale":{"domain":[0,441],"nice":false,"zero":false},"axis":null},"x2":{"datum":66.7},"color":{"field":"cls","type":"nominal","scale":{"domain":["class 1","class 2","class 3","class 4"],"range":["#1a476f","#90353b","#55752f","#e37e00"]},"legend":null}}},
    {"mark":{"type":"text","align":"left","baseline":"middle","fontSize":13,"color":"#222"},"encoding":{"x":{"datum":76,"type":"quantitative","axis":null},"text":{"field":"label","type":"nominal"}}}
   ]}
 ]}
]}
],
"config":{"font":"Liberation Sans","view":{"stroke":null},"legend":{"disable":true},"title":{"font":"Liberation Sans","fontSize":16,"fontWeight":"bold","color":"#000000"},"axis":{"labelFont":"Liberation Sans","titleFont":"Liberation Sans"},"text":{"font":"Liberation Sans"}}
}
